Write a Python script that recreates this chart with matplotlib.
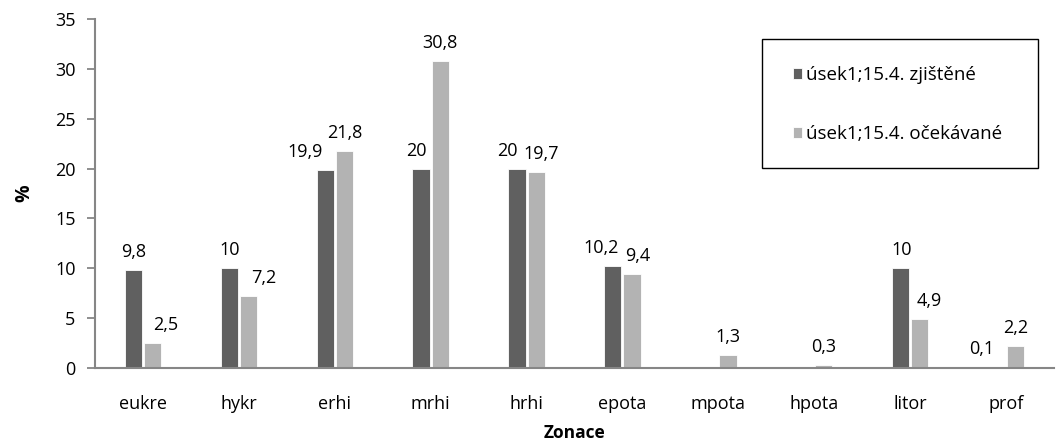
import numpy as np
import matplotlib.pyplot as plt
from matplotlib.patches import Rectangle

plt.rcParams['font.family'] = ['Open Sans', 'DejaVu Sans']

zones = ['eukre', 'hykr', 'erhi', 'mrhi', 'hrhi', 'epota', 'mpota', 'hpota', 'litor', 'prof']
zjistene = [9.8, 10, 19.9, 20, 20, 10.2, 0, 0, 10, 0.1]
ocekavane = [2.5, 7.2, 21.8, 30.8, 19.7, 9.4, 1.3, 0.3, 4.9, 2.2]
names = ['úsek1;15.4. zjištěné', 'úsek1;15.4. očekávané']

# sideways nudges (pixels) so neighbouring value labels don't collide
shift1 = [0, 0, -20, -5, -10, -12, 0, 0, 1, -15]
shift2 = [13, 15, 0, 0, 5, 6, 0, 0, 10, 0]

W, H = 1057, 446
fig = plt.figure(figsize=(W / 100, H / 100), dpi=100)
ax = fig.add_axes([95 / W, 78 / H, 959 / W, 349 / H])

x = np.arange(len(zones))
w = 0.18
b1 = ax.bar(x - 0.1, zjistene, w, color='#606060', edgecolor='white', linewidth=0.6, label=names[0])
b2 = ax.bar(x + 0.1, ocekavane, w, color='#b3b3b3', edgecolor='white', linewidth=0.6, label=names[1])

def fmt(v):
    return ('%g' % v).replace('.', ',')

for bars, vals, shifts in ((b1, zjistene, shift1), (b2, ocekavane, shift2)):
    for r, v, dx in zip(bars, vals, shifts):
        if v == 0:
            continue
        ax.annotate(fmt(v), (r.get_x() + r.get_width() / 2, v), xytext=(dx, 9),
                    textcoords='offset pixels', ha='center', va='bottom', fontsize=13)

ax.set_xlim(-0.5, len(zones) - 0.5)
ax.set_ylim(0, 35)
ax.set_yticks(range(0, 36, 5))
ax.set_xticks(x)
ax.set_xticklabels(zones)
ax.tick_params(axis='x', length=0, pad=19.5, labelsize=13)
ax.tick_params(axis='y', length=6, width=1.3, color='#868686', pad=8, labelsize=13)
for s in ('top', 'right'):
    ax.spines[s].set_visible(False)
for s in ('left', 'bottom'):
    ax.spines[s].set_color('#868686')
    ax.spines[s].set_linewidth(1.5)

ax.set_xlabel('Zonace', fontsize=12.5, fontweight='bold', labelpad=8)
ax.set_ylabel('%', fontsize=14, fontweight='bold', labelpad=15)

# legend box
fig.patches.append(Rectangle((762 / W, 1 - 168 / H), 276 / W, 129 / H, transform=fig.transFigure,
                             fill=False, edgecolor='black', linewidth=1.0))
ax.legend(loc='center left', bbox_to_anchor=(793 / W, 1 - 104.5 / H), bbox_transform=fig.transFigure,
          frameon=False, fontsize=13.5, handlelength=0.5, handleheight=0.5, handletextpad=0.2,
          labelspacing=2.2, borderpad=0, borderaxespad=0)

fig.savefig('out.png', dpi=100)
